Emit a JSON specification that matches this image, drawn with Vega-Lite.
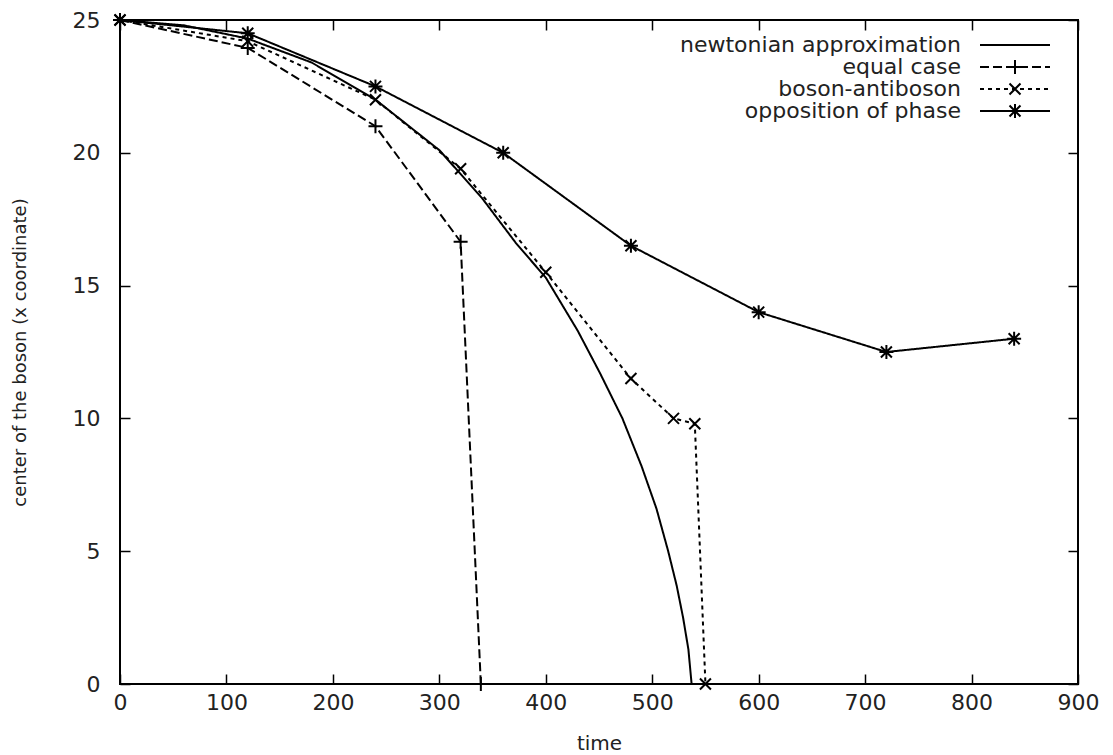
{
  "$schema": "https://vega.github.io/schema/vega-lite/v6.json",
  "width": 958,
  "height": 664,
  "autosize": "none",
  "padding": {"left": 120, "top": 20, "right": 35, "bottom": 71},
  "config": {
    "font": "DejaVu Sans",
    "view": {"stroke": "black", "strokeWidth": 2},
    "axis": {"grid": false, "domain": false, "tickColor": "black", "tickWidth": 1.5, "labelColor": "#222", "titleColor": "#222", "titleFontWeight": "normal", "labelFlush": false, "labelOverlap": false}
  },
  "data": {
    "values": [
      {"series": "newtonian approximation", "time": 0, "center": 25},
      {"series": "newtonian approximation", "time": 60, "center": 24.8},
      {"series": "newtonian approximation", "time": 120, "center": 24.3},
      {"series": "newtonian approximation", "time": 180, "center": 23.4},
      {"series": "newtonian approximation", "time": 240, "center": 22.0},
      {"series": "newtonian approximation", "time": 300, "center": 20.1},
      {"series": "newtonian approximation", "time": 340, "center": 18.3},
      {"series": "newtonian approximation", "time": 372, "center": 16.6},
      {"series": "newtonian approximation", "time": 400, "center": 15.3},
      {"series": "newtonian approximation", "time": 430, "center": 13.3},
      {"series": "newtonian approximation", "time": 451, "center": 11.7},
      {"series": "newtonian approximation", "time": 472, "center": 10.0},
      {"series": "newtonian approximation", "time": 490, "center": 8.2},
      {"series": "newtonian approximation", "time": 504, "center": 6.6},
      {"series": "newtonian approximation", "time": 515, "center": 5.0},
      {"series": "newtonian approximation", "time": 523, "center": 3.7},
      {"series": "newtonian approximation", "time": 529, "center": 2.5},
      {"series": "newtonian approximation", "time": 534, "center": 1.3},
      {"series": "newtonian approximation", "time": 537, "center": 0},
      {"series": "equal case", "time": 0, "center": 25},
      {"series": "equal case", "time": 120, "center": 23.95},
      {"series": "equal case", "time": 240, "center": 21.0},
      {"series": "equal case", "time": 320, "center": 16.65},
      {"series": "equal case", "time": 339, "center": 0},
      {"series": "boson-antiboson", "time": 0, "center": 25},
      {"series": "boson-antiboson", "time": 120, "center": 24.2},
      {"series": "boson-antiboson", "time": 240, "center": 22.0},
      {"series": "boson-antiboson", "time": 320, "center": 19.4},
      {"series": "boson-antiboson", "time": 400, "center": 15.5},
      {"series": "boson-antiboson", "time": 480, "center": 11.5},
      {"series": "boson-antiboson", "time": 520, "center": 10.0},
      {"series": "boson-antiboson", "time": 540, "center": 9.8},
      {"series": "boson-antiboson", "time": 550, "center": 0},
      {"series": "opposition of phase", "time": 0, "center": 25},
      {"series": "opposition of phase", "time": 120, "center": 24.5},
      {"series": "opposition of phase", "time": 240, "center": 22.5},
      {"series": "opposition of phase", "time": 360, "center": 20.0},
      {"series": "opposition of phase", "time": 480, "center": 16.5},
      {"series": "opposition of phase", "time": 600, "center": 14.0},
      {"series": "opposition of phase", "time": 720, "center": 12.5},
      {"series": "opposition of phase", "time": 840, "center": 13.0}
    ]
  },
  "layer": [
    {
      "mark": {"type": "line", "color": "black", "strokeWidth": 2},
      "encoding": {
        "x": {"field": "time", "type": "quantitative", "scale": {"domain": [0, 900], "nice": false, "zero": false},
          "axis": {"orient": "bottom", "values": [0, 100, 200, 300, 400, 500, 600, 700, 800, 900], "title": "time", "titleFontSize": 20, "labelFontSize": 22, "tickSize": -10, "labelPadding": 18, "titlePadding": 20}},
        "y": {"field": "center", "type": "quantitative", "scale": {"domain": [0, 25], "nice": false},
          "axis": {"orient": "left", "values": [0, 5, 10, 15, 20, 25], "title": "center of the boson (x coordinate)", "titleFontSize": 18, "labelFontSize": 22, "tickSize": -10, "labelPadding": 30, "titlePadding": 43}},
        "strokeDash": {"field": "series", "type": "nominal",
          "scale": {"domain": ["newtonian approximation", "equal case", "boson-antiboson", "opposition of phase"], "range": [[1, 0], [9, 4], [4, 4], [1, 0]]},
          "legend": {"orient": "none", "legendX": 884, "legendY": 14, "title": null, "padding": 0, "symbolType": "M-3.5,0H3.5", "symbolSize": 400, "symbolStrokeColor": "black", "symbolStrokeWidth": 2, "labelAlign": "right", "labelOffset": -65, "labelFontSize": 22, "labelColor": "#222", "labelLimit": 0, "rowPadding": 0}}
      }
    },
    {
      "transform": [{"filter": "datum.series != 'newtonian approximation'"}],
      "mark": {"type": "point", "filled": false, "color": "black", "strokeWidth": 2, "size": 400, "opacity": 1},
      "encoding": {
        "x": {"field": "time", "type": "quantitative", "axis": {"orient": "top", "values": [0, 100, 200, 300, 400, 500, 600, 700, 800, 900], "labels": false, "title": null, "tickSize": -10}},
        "y": {"field": "center", "type": "quantitative", "axis": {"orient": "right", "values": [0, 5, 10, 15, 20, 25], "labels": false, "title": null, "tickSize": -10}},
        "shape": {"field": "series", "type": "nominal",
          "scale": {"domain": ["newtonian approximation", "equal case", "boson-antiboson", "opposition of phase", " "], "range": ["M0,0", "M-0.7,0H0.7M0,-0.7V0.7", "M-0.55,-0.55L0.55,0.55M-0.55,0.55L0.55,-0.55", "M-0.7,0H0.7M0,-0.7V0.7M-0.55,-0.55L0.55,0.55M-0.55,0.55L0.55,-0.55", "M0,0"]},
          "legend": {"orient": "none", "legendX": 884, "legendY": 14, "title": null, "padding": 0, "symbolSize": 400, "symbolStrokeColor": "black", "symbolStrokeWidth": 2, "symbolFillColor": "transparent", "labelExpr": "''", "labelAlign": "right", "labelOffset": -65, "labelFontSize": 22, "labelOpacity": 0, "labelLimit": 0, "rowPadding": 0}}
      }
    }
  ],
  "resolve": {"axis": {"x": "independent", "y": "independent"}}
}
